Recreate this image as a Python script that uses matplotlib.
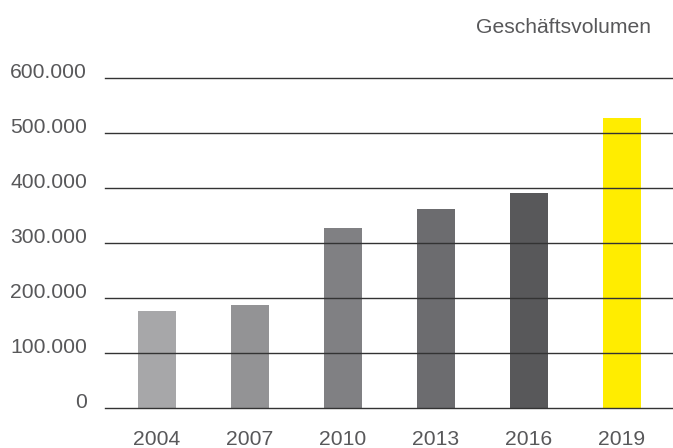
import matplotlib.pyplot as plt
from matplotlib import transforms

years = ["2004", "2007", "2010", "2013", "2016", "2019"]
volumes = [177000, 188000, 328000, 362000, 391000, 528000]
bar_colors = ["#a7a7a9", "#939395", "#808083", "#6c6c6f", "#58585a", "#ffed00"]
yticks = [0, 100000, 200000, 300000, 400000, 500000, 600000]
ytick_labels = ["0", "100.000", "200.000", "300.000", "400.000", "500.000", "600.000"]
title = "Geschäftsvolumen"

plt.rcParams['font.family'] = ['Liberation Sans', 'DejaVu Sans']
text_color = "#58585a"
fs = 15.2

W, H = 673, 448
fig = plt.figure(figsize=(W / 100, H / 100), dpi=100)
# axes in pixel terms: x 105..673, y 78.3..408.3 from top
ax = fig.add_axes([105 / W, (H - 408.3) / H, (673 - 105) / W, (408.3 - 78.3) / H])

x = list(range(len(years)))
ax.bar(x, volumes, width=0.41, color=bar_colors, zorder=1)

for v in yticks:
    ax.axhline(v, color="#333333", lw=1.0, zorder=2, clip_on=False)

ax.set_xlim(-0.559, 5.548)
ax.set_ylim(0, 600000)
ax.set_axis_off()

# y labels, right aligned at x=87px, baseline on gridline
ylab_tr = transforms.blended_transform_factory(fig.transFigure, ax.transData)
for v, lab in zip(yticks, ytick_labels):
    ax.text(87 / W, v, lab, transform=ylab_tr, ha="right", va="baseline",
            fontsize=fs, color=text_color)

# x labels, baseline just above bottom edge
xlab_tr = transforms.blended_transform_factory(ax.transData, ax.transAxes) + \
    transforms.ScaledTranslation(0, -36.5 / 100, fig.dpi_scale_trans)
for xi, lab in zip(x, years):
    ax.text(xi, 0, lab, transform=xlab_tr, ha="center", va="baseline",
            fontsize=fs, color=text_color)

fig.text(651 / W, (H - 33) / H, title, ha="right", va="baseline",
         fontsize=fs, color=text_color)

fig.savefig("out.png", dpi=100)
